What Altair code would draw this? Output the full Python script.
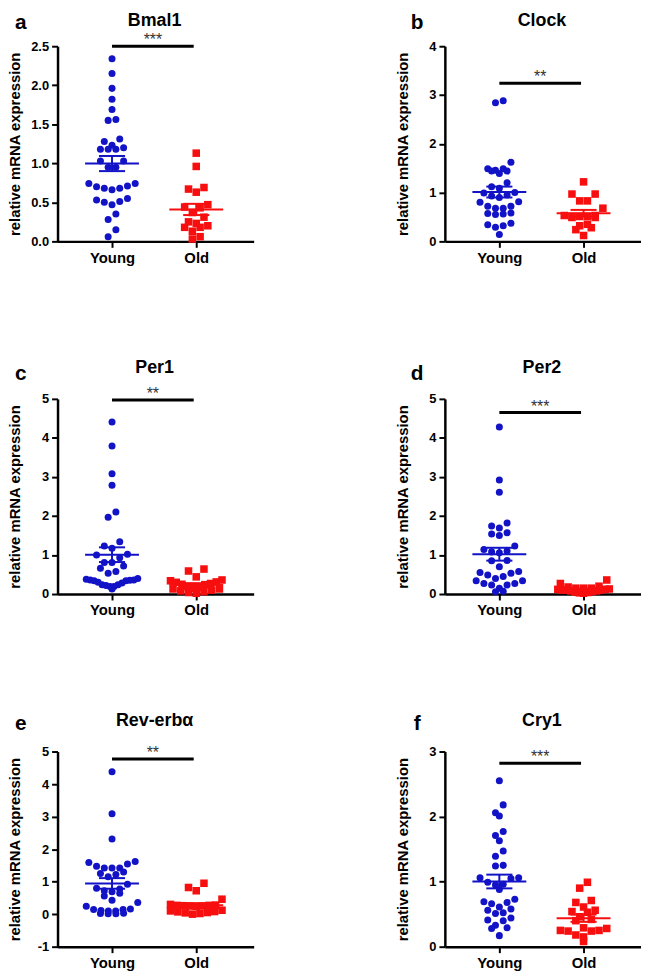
import altair as alt
import pandas as pd

FONT = "Liberation Sans"

groups = ["Young", "Old"]
colors = ["#1212c6", "#f70f0f"]
shapes = ["circle", "square"]
mark_sizes = [50, 58]

genes = ["Bmal1", "Clock", "Per1", "Per2", "Rev-erbα", "Cry1"]
letters = ["a", "b", "c", "d", "e", "f"]
stars = ["***", "**", "**", "***", "**", "***"]
sig_heights = [2.5, 3.24, 4.97, 4.65, 4.77, 2.82]
y_domains = [[0, 2.5], [0, 4], [0, 5], [0, 5], [-1, 5], [0, 3]]
y_ticks = [
    [0, 0.5, 1, 1.5, 2, 2.5],
    [0, 1, 2, 3, 4],
    [0, 1, 2, 3, 4, 5],
    [0, 1, 2, 3, 4, 5],
    [-1, 0, 1, 2, 3, 4, 5],
    [0, 1, 2, 3],
]
y_label_exprs = [
    "format(datum.value, '.1f')",
    "'' + datum.value",
    "'' + datum.value",
    "'' + datum.value",
    "'' + datum.value",
    "'' + datum.value",
]
y_title = "relative mRNA expression"

bmal1_young = [2.34, 2.15, 1.96, 1.82, 1.69, 1.56, 1.55, 1.31, 1.28, 1.23, 1.20, 1.18,
               1.18, 1.18, 1.03, 1.03, 0.95, 0.95, 0.74, 0.74, 0.71, 0.70, 0.68, 0.68,
               0.66, 0.55, 0.53, 0.51, 0.50, 0.47, 0.35, 0.28, 0.15, 0.06]
bmal1_old = [1.13, 0.96, 0.69, 0.67, 0.63, 0.47, 0.44, 0.43, 0.37, 0.31, 0.25, 0.23,
             0.20, 0.18, 0.18, 0.13, 0.06, 0.03]

clock_young = [2.88, 2.84, 1.62, 1.49, 1.49, 1.46, 1.44, 1.44, 1.39, 1.20, 1.12, 1.09,
               1.00, 0.99, 0.95, 0.93, 0.90, 0.81, 0.80, 0.72, 0.72, 0.68, 0.68, 0.58,
               0.57, 0.56, 0.55, 0.37, 0.34, 0.32, 0.29, 0.14]
clock_old = [1.22, 0.97, 0.97, 0.83, 0.83, 0.68, 0.53, 0.53, 0.51, 0.51, 0.51, 0.49,
             0.49, 0.35, 0.32, 0.28, 0.24, 0.12]

per1_young = [4.41, 3.79, 3.08, 2.79, 2.10, 1.97, 1.34, 1.23, 1.17, 1.02, 1.00, 0.93,
              0.81, 0.81, 0.72, 0.66, 0.58, 0.53, 0.40, 0.38, 0.36, 0.36, 0.35, 0.34,
              0.34, 0.30, 0.28, 0.24, 0.24, 0.22, 0.19, 0.19, 0.13]
per1_old = [0.64, 0.59, 0.44, 0.36, 0.34, 0.31, 0.30, 0.27, 0.25, 0.24, 0.19, 0.17,
            0.15, 0.13, 0.13, 0.10, 0.08, 0.06, 0.04, 0.02]

per2_young = [4.28, 2.92, 2.61, 1.82, 1.74, 1.69, 1.57, 1.54, 1.50, 1.23, 1.14, 1.10,
              1.08, 1.06, 0.86, 0.85, 0.70, 0.58, 0.55, 0.53, 0.49, 0.45, 0.40, 0.34,
              0.34, 0.27, 0.27, 0.23, 0.23, 0.15, 0.07, 0.06]
per2_old = [0.36, 0.27, 0.20, 0.18, 0.15, 0.15, 0.15, 0.13, 0.12, 0.12, 0.10, 0.10,
            0.10, 0.08, 0.08, 0.06, 0.05, 0.04, 0.03, 0.02]

reverb_young = [4.38, 3.09, 2.31, 1.62, 1.59, 1.54, 1.47, 1.42, 1.42, 1.42, 1.30, 1.25,
                1.22, 1.15, 0.92, 0.80, 0.77, 0.72, 0.69, 0.64, 0.56, 0.43, 0.36, 0.24,
                0.16, 0.14, 0.14, 0.11, 0.10, 0.10, 0.03, 0.02, 0.01, 0.01]
reverb_old = [0.95, 0.82, 0.72, 0.46, 0.30, 0.28, 0.27, 0.27, 0.26, 0.25, 0.25, 0.24,
              0.12, 0.10, 0.08, 0.07, 0.05, 0.04, 0.02, 0.00]

cry1_young = [2.55, 2.18, 2.06, 2.01, 1.77, 1.71, 1.63, 1.47, 1.39, 1.25, 1.24, 1.06,
              1.06, 1.05, 0.99, 0.96, 0.95, 0.88, 0.73, 0.69, 0.68, 0.66, 0.61, 0.58,
              0.56, 0.52, 0.51, 0.44, 0.41, 0.40, 0.33, 0.29, 0.28, 0.17]
cry1_old = [0.99, 0.90, 0.71, 0.68, 0.61, 0.56, 0.54, 0.53, 0.46, 0.42, 0.40, 0.29,
            0.28, 0.25, 0.25, 0.24, 0.24, 0.18, 0.15, 0.08]

series = [
    (bmal1_young, bmal1_old),
    (clock_young, clock_old),
    (per1_young, per1_old),
    (per2_young, per2_old),
    (reverb_young, reverb_old),
    (cry1_young, cry1_old),
]

# layout
W = 198
H = 197
XD = [-0.647, 1.682]
letter_x = [-37, -28]
letter_y = [-17, -17, -19, -19, -22, -22]
title_y = [-20, -20, -26, -26, -26, -26]
COL_SPACING = 193
ROW_SPACING = 159
DOT = 7.8
ROW_TOL = 1.1
HALF_LIMIT = 26.0


def row_layout(vals, ppu):
    """Scatter-dot-plot style offsets (pixels): values within about one dot
    height share a row and are spread side by side around the group centre."""
    order = sorted(range(len(vals)), key=lambda i: -vals[i])
    bins, cur = [], [order[0]]
    for i in order[1:]:
        if (vals[cur[0]] - vals[i]) * ppu <= DOT * ROW_TOL:
            cur.append(i)
        else:
            bins.append(cur)
            cur = [i]
    bins.append(cur)
    xs = [0.0] * len(vals)
    for b in bins:
        m = len(b)
        step = DOT if m < 2 else min(DOT, 2 * HALF_LIMIT / (m - 1))
        slots = [(j - (m - 1) / 2) * step for j in range(m)]
        slots.sort(key=lambda s: (round(abs(s), 6), s))
        members = sorted(b, key=lambda i: vals[i])
        for i, s in zip(members, slots):
            xs[i] = s
    return xs


def panel(k):
    col = k % 2
    ymin, ymax = y_domains[k]
    ppy = H / (ymax - ymin)
    ppx = W / (XD[1] - XD[0])
    rows = []
    for gi, (g, vals) in enumerate(zip(groups, series[k])):
        offs = row_layout(vals, ppy)
        for v, o in zip(vals, offs):
            rows.append({"group": g, "gi": gi, "value": v, "xpos": gi + o / ppx})
    df = pd.DataFrame(rows)

    xscale = alt.Scale(domain=XD, nice=False, zero=False)
    yscale = alt.Scale(domain=y_domains[k], nice=False, zero=False)
    xaxis = alt.Axis(
        values=[0, 1],
        labelExpr=f"datum.value == 0 ? '{groups[0]}' : '{groups[1]}'",
        title=None, grid=False, tickSize=6, tickWidth=2, domainWidth=2.5,
        labelFontSize=15, labelFontWeight="bold", labelPadding=3, labelFlush=False,
    )
    yaxis = alt.Axis(
        values=y_ticks[k], labelExpr=y_label_exprs[k], title=y_title, grid=False,
        tickSize=6, tickWidth=2, domainWidth=2.5, labelFontSize=13,
        labelFontWeight="bold", labelPadding=3, minExtent=28, maxExtent=28,
        titlePadding=7, titleFontSize=15, titleFontWeight="bold",
    )

    def X(f):
        return alt.X(f, type="quantitative", scale=xscale, axis=xaxis)

    def Y(f):
        return alt.Y(f, type="quantitative", scale=yscale, axis=yaxis)

    color = alt.Color("group:N", scale=alt.Scale(domain=groups, range=colors), legend=None)
    shape = alt.Shape("group:N", scale=alt.Scale(domain=groups, range=shapes), legend=None)
    size = alt.Size("group:N", scale=alt.Scale(domain=groups, range=mark_sizes), legend=None)

    base = alt.Chart(df)
    pts = base.mark_point(filled=True, opacity=1, strokeWidth=0).encode(
        x=X("xpos"), y=Y("value"), color=color, shape=shape, size=size
    )
    agg = base.transform_aggregate(
        m="mean(value)", se="stderr(value)", groupby=["group", "gi"]
    ).transform_calculate(
        lo="datum.m - datum.se",
        hi="datum.m + datum.se",
        a1="datum.gi - 0.32",
        a2="datum.gi + 0.32",
        c1="datum.gi - 0.155",
        c2="datum.gi + 0.155",
    )
    meanline = agg.mark_rule(strokeWidth=2).encode(x=X("a1"), x2="a2:Q", y=Y("m"), color=color)
    errv = agg.mark_rule(strokeWidth=2).encode(x=X("gi"), y=Y("lo"), y2="hi:Q", color=color)
    caps = agg.transform_fold(["lo", "hi"], as_=["which", "v"]).mark_rule(strokeWidth=2).encode(
        x=X("c1"), x2="c2:Q", y=Y("v"), color=color
    )

    sigdf = pd.DataFrame({"sig": [sig_heights[k]], "stars": [stars[k]], "g0": [0], "g1": [1]})
    sig = alt.Chart(sigdf).transform_calculate(
        s1="datum.g0", s2="datum.g1 - 0.03", sm="(datum.g0 + datum.g1 - 0.03) / 2"
    )
    bar = sig.mark_rule(strokeWidth=3, color="black").encode(x=X("s1"), x2="s2:Q", y=Y("sig"))
    startext = sig.mark_text(
        font=FONT, fontSize=16, color="#333333", baseline="alphabetic", align="center", dy=-1
    ).encode(x=X("sm"), y=Y("sig"), text="stars:N")

    lab = alt.Chart(pd.DataFrame({"t": [letters[k]]})).mark_text(
        font=FONT, fontSize=21, fontWeight="bold", color="black", align="center", baseline="alphabetic"
    ).encode(x=alt.value(letter_x[col]), y=alt.value(letter_y[k]), text="t:N")
    ttl = alt.Chart(pd.DataFrame({"t": [genes[k]]})).mark_text(
        font=FONT, fontSize=18, fontWeight="bold", color="black", align="center", baseline="alphabetic"
    ).encode(x=alt.value(W / 2 - 1), y=alt.value(title_y[k]), text="t:N")

    return alt.layer(pts, meanline, errv, caps, bar, startext, lab, ttl).properties(width=W, height=H)


panels = [panel(k) for k in range(6)]

chart = (
    alt.concat(
        *panels,
        columns=2,
        spacing={"row": ROW_SPACING, "column": COL_SPACING},
        bounds="flush",
        align="all",
    )
    .properties(padding={"left": 0, "top": 0, "right": 0, "bottom": 0})
    .configure_view(stroke=None)
    .configure_axis(
        domainColor="black", tickColor="black", labelColor="black", titleColor="black",
        labelFont=FONT, titleFont=FONT,
    )
    .configure_text(font=FONT)
)

chart.save("out.html", embed_options={"renderer": "svg", "actions": False})
